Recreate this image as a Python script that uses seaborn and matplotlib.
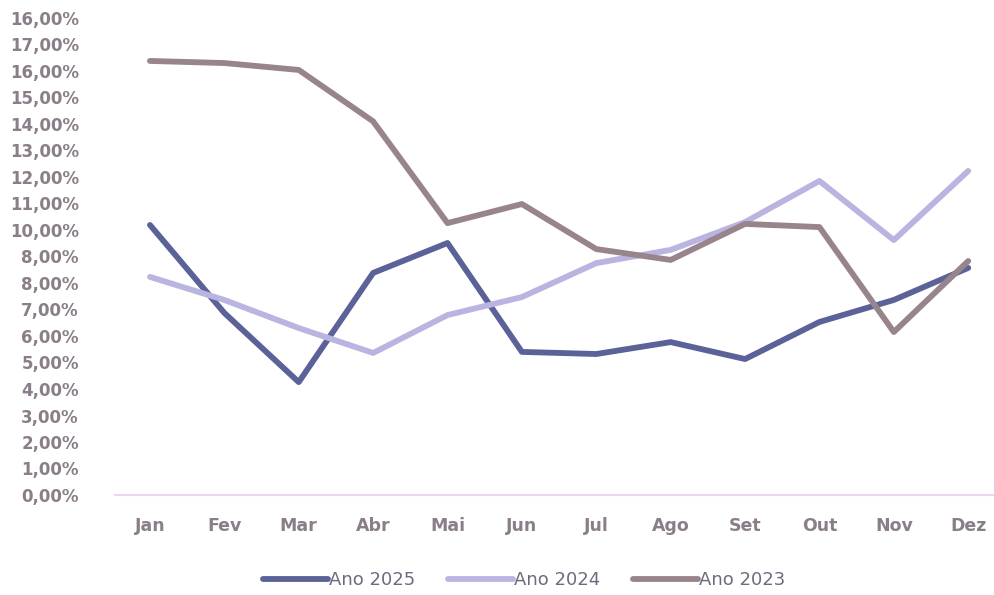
import matplotlib
matplotlib.use("Agg")
import matplotlib.pyplot as plt
import seaborn as sns
import pandas as pd

months = ["Jan", "Fev", "Mar", "Abr", "Mai", "Jun", "Jul", "Ago", "Set", "Out", "Nov", "Dez"]
ano_2025 = [10.19, 6.87, 4.26, 8.38, 9.51, 5.40, 5.32, 5.77, 5.13, 6.53, 7.36, 8.57]
ano_2024 = [8.23, 7.36, 6.30, 5.36, 6.79, 7.47, 8.75, 9.25, 10.30, 11.85, 9.62, 12.23]
ano_2023 = [16.38, 16.30, 16.04, 14.10, 10.26, 10.98, 9.28, 8.87, 10.23, 10.11, 6.15, 8.83]
series_names = ["Ano 2025", "Ano 2024", "Ano 2023"]
colors = ["#5a6298", "#bab4e0", "#98848c"]
y_tick_labels = ["0,00%", "1,00%", "2,00%", "3,00%", "4,00%", "5,00%", "6,00%", "7,00%",
                 "8,00%", "8,00%", "10,00%", "11,00%", "12,00%", "13,00%", "14,00%",
                 "15,00%", "16,00%", "17,00%", "16,00%"]

rows = []
for name, vals in zip(series_names, [ano_2025, ano_2024, ano_2023]):
    for i, (m, v) in enumerate(zip(months, vals)):
        rows.append({"idx": i, "mes": m, "valor": v, "serie": name})
df = pd.DataFrame(rows)

sns.set_theme(style="white")
plt.rcParams["font.family"] = ["DejaVu Sans"]

fig = plt.figure(figsize=(9.95, 5.95), dpi=100)
ax = fig.add_axes([115 / 995, 100 / 595, 880 / 995, 477 / 595])

sns.lineplot(data=df, x="idx", y="valor", hue="serie", hue_order=series_names,
             palette=dict(zip(series_names, colors)), linewidth=4.2, sort=False,
             ax=ax, legend=True)

ax.set_xlim(-0.47, 11.36)
ax.set_ylim(0, 18)
ax.set_xticks(range(len(months)))
ax.set_xticklabels(months)
ax.set_yticks(range(len(y_tick_labels)))
ax.set_yticklabels(y_tick_labels)
ax.set_xlabel("")
ax.set_ylabel("")

tick_color = "#8a7e88"
ax.tick_params(axis="x", length=0, pad=16, labelsize=12.5, labelcolor=tick_color)
ax.tick_params(axis="y", length=0, pad=26, labelsize=12, labelcolor=tick_color)
for lab in ax.get_xticklabels() + ax.get_yticklabels():
    lab.set_fontweight("bold")

for s in ["top", "right", "left"]:
    ax.spines[s].set_visible(False)
ax.spines["bottom"].set_color("#ecd6ee")
ax.spines["bottom"].set_linewidth(1.5)
ax.grid(False)

handles, labels = ax.get_legend_handles_labels()
ax.legend(handles, labels, loc="upper center", bbox_to_anchor=(0.465, -0.125),
          ncol=3, frameon=False, fontsize=13, handlelength=3.6, handletextpad=0.05,
          columnspacing=1.8, labelcolor="#6f6a7e")

fig.savefig("out.png", dpi=100, facecolor="white")
